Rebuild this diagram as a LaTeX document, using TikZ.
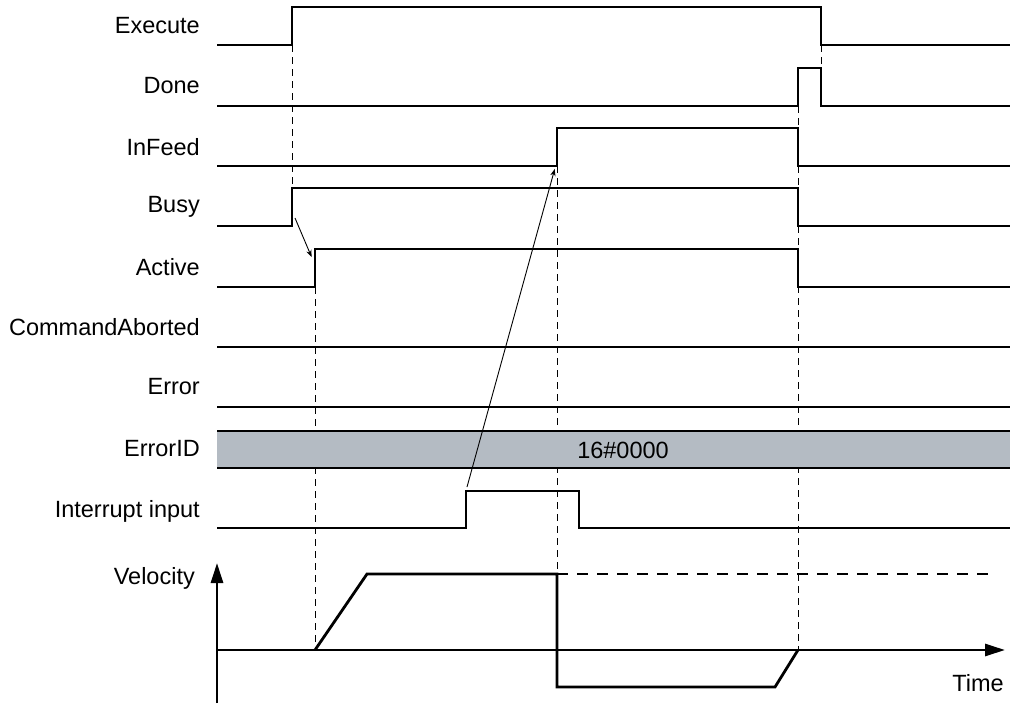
\documentclass[tikz,border=0pt]{standalone}
\usepackage{fontspec}
\setmainfont{Liberation Sans}
\usetikzlibrary{arrows.meta}
\definecolor{bandgray}{HTML}{B4BBC3}

\begin{document}
\begin{tikzpicture}[x=1pt,y=-1pt,>=Stealth,line join=miter,
  sig/.style={line width=2.8pt},
  guide/.style={line width=1pt,dash pattern=on 7pt off 5pt},
  hint/.style={->,line width=0.9pt,shorten >=1pt},
  lbl/.style={anchor=east,inner sep=0pt,font=\fontsize{23.5}{27}\selectfont}]
  \useasboundingbox (0,0) rectangle (1012,704);

  % labels
  \node[lbl] (execute) at (200,26)  {Execute};
  \node[lbl] (done)    at (200,86)  {Done};
  \node[lbl] (infeed)  at (200,147) {InFeed};
  \node[lbl] (busy)    at (200,207) {Busy};
  \node[lbl] (active)  at (200,267) {Active};
  \node[lbl] (cmdab)   at (200,327) {CommandAborted};
  \node[lbl] (error)   at (200,387) {Error};
  \node[lbl] (errid)   at (200,449) {ErrorID};
  \node[lbl] (intin)   at (200,511) {Interrupt input};
  \node[lbl] (vel)     at (195,578) {Velocity};
  \node[lbl] (time)    at (1004,683) {Time};

  % guides
  \draw[guide] (292,45) -- (292,188);
  \draw[guide] (821,45) -- (821,68);
  \draw[guide] (315,287) -- (315,650);
  \draw[guide] (557,166) -- (557,574);
  \draw[guide] (798,106) -- (798,650);

  % ErrorID band
  \fill[bandgray] (217,431) rectangle (1010,468);
  \draw[sig] (217,431) -- (1010,431);
  \draw[sig] (217,468) -- (1010,468);
  \node[font=\fontsize{23.5}{27}\selectfont,inner sep=0pt] (errval) at (623,450) {16\#0000};

  % signals
  \draw[sig] (217,45) -- (292,45) -- (292,7) -- (821,7) -- (821,45) -- (1010,45);
  \draw[sig] (217,106) -- (798,106) -- (798,68) -- (821,68) -- (821,106) -- (1010,106);
  \draw[sig] (217,166) -- (557,166) -- (557,128) -- (798,128) -- (798,166) -- (1010,166);
  \draw[sig] (217,226) -- (292,226) -- (292,188) -- (798,188) -- (798,226) -- (1010,226);
  \draw[sig] (217,287) -- (315,287) -- (315,249) -- (798,249) -- (798,287) -- (1010,287);
  \draw[sig] (217,347) -- (1010,347);
  \draw[sig] (217,407) -- (1010,407);
  \draw[sig] (217,528) -- (466,528) -- (466,491) -- (579,491) -- (579,528) -- (1010,528);

  % velocity axes
  \draw[sig,-{Triangle[length=20pt,width=12pt]}] (217,703) -- (217,563);
  \draw[sig,-{Triangle[length=20pt,width=12pt]}] (217,650) -- (1005,650);

  % velocity profile
  \draw[sig] (315,650) -- (367,574) -- (557,574) -- (557,687) -- (775,687) -- (798,650);
  \draw[sig,dash pattern=on 11pt off 9pt] (557,574) -- (995,574);

  % cause arrows
  \coordinate (busyup)   at (295,218);
  \coordinate (activeup) at (312,258);
  \coordinate (intup)    at (467,487);
  \coordinate (infeedup) at (555,168);
  \draw[hint] (busyup) -- (activeup);
  \draw[hint] (intup) -- (infeedup);
\end{tikzpicture}
\end{document}
